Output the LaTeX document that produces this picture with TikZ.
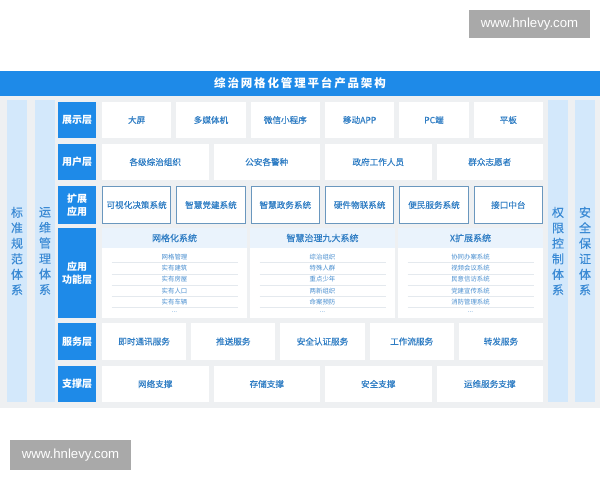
\documentclass[tikz,border=0pt]{standalone}
\usepackage{fontspec}
\newfontfamily\cjk{Noto Sans CJK SC}
\newfontfamily\cjkmed[FakeBold=0.35]{Noto Sans CJK SC}
\newfontfamily\cjktitle[LetterSpace=16]{Noto Sans CJK SC}
\newfontfamily\wmfont{Liberation Sans}
\definecolor{barblue}{HTML}{1E8AE8}
\definecolor{colblue}{HTML}{D3E8FB}
\definecolor{bggray}{HTML}{EEF0F2}
\definecolor{txtblue}{HTML}{2F7DC4}
\definecolor{coltxt}{HTML}{3A8AD4}
\definecolor{extborder}{HTML}{6A97BE}
\definecolor{phfill}{HTML}{EAF3FC}
\definecolor{itemtxt}{HTML}{4A8FD0}
\definecolor{sepgray}{HTML}{E4E9EE}
\definecolor{wmgray}{HTML}{A9A9A9}
\begin{document}
\begin{tikzpicture}[x=1pt,y=-1pt,
  cell/.style={fill=white, draw=none, inner sep=0pt, outer sep=0pt, text=txtblue,
    font=\cjkmed\fontsize{8.6}{10}\selectfont},
  extcell/.style={cell, draw=extborder, line width=0.9pt},
  layer/.style={fill=barblue, inner sep=0pt, outer sep=0pt, text=white, align=center,
    minimum width=38pt, font=\cjk\bfseries\fontsize{10}{13}\selectfont},
  col/.style={fill=colblue, inner sep=0pt, outer sep=0pt, minimum width=20pt, minimum height=302pt,
    text=coltxt, align=center, font=\cjkmed\fontsize{12}{15.5}\selectfont},
  phead/.style={fill=phfill, inner sep=0pt, outer sep=0pt, minimum width=145pt, minimum height=20pt,
    text=txtblue, font=\cjkmed\fontsize{9}{10}\selectfont},
  pbody/.style={fill=white, inner sep=0pt, outer sep=0pt, minimum width=145pt, minimum height=70pt},
  item/.style={inner sep=0pt, text=itemtxt, font=\cjk\fontsize{6.4}{7}\selectfont},
  sepline/.style={draw=sepgray, line width=0.6pt},
  wm/.style={fill=wmgray, inner sep=0pt, text=white, font=\wmfont\fontsize{13.2}{15}\selectfont}
]
\useasboundingbox (0,0) rectangle (600,480);
\fill[white] (0,0) rectangle (600,480);
% gray background
\fill[bggray] (0,96) rectangle (600,408);
% title bar
\node[fill=barblue, inner sep=0pt, outer sep=0pt, minimum width=600pt, minimum height=25pt,
  text=white, font=\cjktitle\bfseries\fontsize{11.5}{12}\selectfont] (title) at (300,83.5) {综治网格化管理平台产品架构};
% side columns
\node[col] (s1) at (17,251) {标\\准\\规\\范\\体\\系};
\node[col] (s2) at (45,251) {运\\维\\管\\理\\体\\系};
\node[col] (s3) at (558,251) {权\\限\\控\\制\\体\\系};
\node[col] (s4) at (585,251) {安\\全\\保\\证\\体\\系};
% layer labels
\node[layer, minimum height=36pt] (L1) at (77,120) {展示层};
\node[layer, minimum height=36pt] (L2) at (77,162) {用户层};
\node[layer, minimum height=38pt] (L3) at (77,205) {扩展\\应用};
\node[layer, minimum height=90pt] (L4) at (77,273) {应用\\功能层};
\node[layer, minimum height=37pt] (L5) at (77,341.5) {服务层};
\node[layer, minimum height=36pt] (L6) at (77,384) {支撑层};
% row 1
\foreach \t [count=\i] in {大屏,多媒体机,微信小程序,移动APP,PC端,平板} {
  \pgfmathsetmacro\cx{102+(\i-1)*74.333+34.667}
  \node[cell, minimum width=69.3pt, minimum height=36pt] (show\i) at (\cx,120) {\t};
}
% row 2
\foreach \t [count=\i] in {各级综治组织,公安各警种,政府工作人员,群众志愿者} {
  \pgfmathsetmacro\cx{102+(\i-1)*111.5+53.25}
  \node[cell, minimum width=106.5pt, minimum height=36pt] (user\i) at (\cx,162) {\t};
}
% row 3
\foreach \t [count=\i] in {可视化决策系统,智慧党建系统,智慧政务系统,硬件物联系统,便民服务系统,接口中台} {
  \pgfmathsetmacro\cx{102+(\i-1)*74.333+34.667}
  \node[extcell, minimum width=68.4pt, minimum height=37pt] (ext\i) at (\cx,205) {\t};
}
% row 4 panels
\foreach \h/\a/\b/\c/\d/\e [count=\i] in {
  网格化系统/网格管理/实有建筑/实有房屋/实有人口/实有车辆,
  智慧治理九大系统/综治组织/特殊人群/重点少年/两新组织/命案预防,
  X扩展系统/协同办案系统/视频会议系统/民意信访系统/党建宣传系统/消防管理系统} {
  \pgfmathsetmacro\cx{102+(\i-1)*148+72.5}
  \node[pbody] (pb\i) at (\cx,283) {};
  \node[phead] (ph\i) at (\cx,238) {\h};
  \foreach \s [count=\k] in {\a,\b,\c,\d,\e} {
    \pgfmathsetmacro\yy{257+(\k-1)*11.2}
    \node[item] (it\i\k) at (\cx,\yy) {\s};
    \draw[sepline] (\cx-63,\yy+5.6) -- (\cx+63,\yy+5.6);
  }
  \node[item] (dots\i) at (\cx,312.5) {...};
}
% row 5
\foreach \t [count=\i] in {即时通讯服务,推送服务,安全认证服务,工作流服务,转发服务} {
  \pgfmathsetmacro\cx{102+(\i-1)*89.2+42.1}
  \node[cell, minimum width=84.2pt, minimum height=37pt] (svc\i) at (\cx,341.5) {\t};
}
% row 6
\foreach \t [count=\i] in {网络支撑,存储支撑,安全支撑,运维服务支撑} {
  \pgfmathsetmacro\cx{102+(\i-1)*111.5+53.25}
  \node[cell, minimum width=106.5pt, minimum height=36pt] (sup\i) at (\cx,384) {\t};
}
% watermarks
\node[wm, minimum width=121pt, minimum height=28pt] (wm1) at (529.5,24) {www.hnlevy.com};
\node[wm, minimum width=121pt, minimum height=30pt] (wm2) at (70.5,455) {www.hnlevy.com};
\end{tikzpicture}
\end{document}
